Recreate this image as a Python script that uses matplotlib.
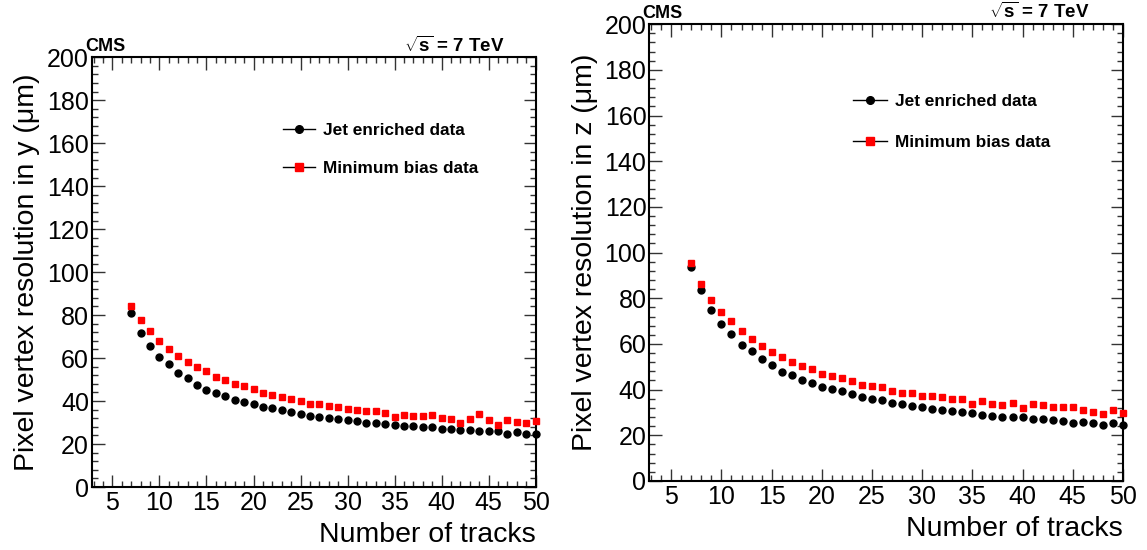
import matplotlib
matplotlib.use('Agg')
import matplotlib.pyplot as plt
import numpy as np
from matplotlib.lines import Line2D
from matplotlib.ticker import MultipleLocator

plt.rcParams['font.family'] = ['Liberation Sans', 'DejaVu Sans']
plt.rcParams['mathtext.fontset'] = 'custom'
plt.rcParams['mathtext.rm'] = 'Liberation Sans'
plt.rcParams['mathtext.bf'] = 'Liberation Sans:bold'

# number of tracks in the vertex
n_tracks = np.arange(7, 51)

# resolution in y (um)
jet_y = [81.1, 71.6, 65.8, 60.5, 57.1, 52.9, 50.6, 47.6, 45.3, 43.9,
         42.3, 40.7, 39.7, 38.5, 37.1, 36.6, 35.7, 34.9, 33.8, 33.0,
         32.7, 31.9, 31.5, 31.0, 30.6, 29.8, 29.6, 29.2, 28.7, 28.5,
         28.2, 27.8, 27.8, 27.2, 27.2, 26.4, 26.4, 26.2, 26.0, 26.0,
         24.5, 25.4, 24.8, 24.5]
minbias_y = [84.2, 77.5, 72.4, 67.9, 64.4, 60.8, 58.1, 55.8, 53.8, 51.3,
             49.8, 48.1, 46.8, 45.4, 43.6, 42.8, 41.9, 40.9, 40.1, 38.6,
             38.6, 37.7, 37.4, 36.5, 35.8, 35.5, 35.3, 34.3, 32.6, 33.7,
             33.2, 33.2, 33.5, 32.1, 31.5, 29.6, 31.5, 33.8, 31.0, 29.0,
             31.2, 30.4, 29.8, 30.6]

# resolution in z (um)
jet_z = [93.7, 83.8, 75.0, 68.6, 64.3, 59.5, 56.9, 53.4, 50.7, 47.9,
         46.3, 44.2, 42.8, 41.2, 40.4, 39.2, 37.9, 36.9, 36.0, 35.4,
         34.1, 33.9, 32.9, 32.5, 31.7, 31.1, 30.7, 30.0, 29.7, 29.1,
         28.4, 28.2, 27.9, 27.9, 27.3, 27.0, 26.8, 26.4, 25.6, 25.9,
         25.4, 24.7, 25.3, 24.4]
minbias_z = [95.6, 86.3, 79.2, 74.1, 69.9, 65.8, 62.3, 58.9, 56.3, 54.5,
             51.9, 50.4, 49.1, 46.9, 45.9, 44.9, 43.6, 42.2, 41.8, 41.1,
             39.5, 38.5, 38.5, 37.4, 37.4, 36.8, 35.8, 35.7, 33.6, 35.0,
             33.9, 33.3, 34.2, 32.0, 33.6, 33.2, 32.5, 32.6, 32.2, 31.0,
             30.4, 29.3, 31.1, 29.7]

fig = plt.figure(figsize=(11.47, 5.5), dpi=100)
ax1 = fig.add_axes([0.080, 0.1145, 0.387, 0.7815])
ax2 = fig.add_axes([0.566, 0.1255, 0.413, 0.8305])


def style_panel(ax, jet, minbias, coord, leg_y, spacing, hlen):
    ax.plot(n_tracks, jet, ls='none', marker='o', ms=5, color='black', clip_on=False, zorder=3)
    ax.plot(n_tracks, minbias, ls='none', marker='s', ms=5, color='red', clip_on=False, zorder=3)
    ax.set_xlim(2.8, 50)
    ax.set_ylim(0, 200)
    ax.xaxis.set_major_locator(MultipleLocator(5))
    ax.xaxis.set_minor_locator(MultipleLocator(1))
    ax.yaxis.set_major_locator(MultipleLocator(20))
    ax.yaxis.set_minor_locator(MultipleLocator(4))
    ax.tick_params(which='both', direction='in', top=True, right=True,
                   labelsize=18, width=1, color='#333333')
    ax.tick_params(which='major', length=9)
    ax.tick_params(which='minor', length=4.5)
    ax.tick_params(axis='y', pad=2)
    ax.tick_params(axis='x', pad=3)
    for s in ax.spines.values():
        s.set_linewidth(1.5)
    ax.set_ylabel(f'Pixel vertex resolution in {coord} (μm)', fontsize=20.5, labelpad=5)
    ax.set_xlabel('Number of tracks', fontsize=20.5, loc='right', labelpad=5)
    ax.text(-0.015, 1.004, 'CMS', transform=ax.transAxes, fontsize=13,
            fontweight='bold', ha='left', va='bottom')
    ax.text(0.93, 1.004, r'$\sqrt{\mathbf{s}}$ = 7 TeV', transform=ax.transAxes,
            fontsize=13.5, fontweight='bold', ha='right', va='bottom')
    handles = [Line2D([], [], color='black', lw=1, marker='o', ms=5.5),
               Line2D([], [], color='black', lw=1, marker='s', ms=5.5,
                      mfc='red', mec='red')]
    ax.legend(handles, ['Jet enriched data', 'Minimum bias data'],
              loc='center left', bbox_to_anchor=(0.43, leg_y), frameon=False,
              prop={'weight': 'bold', 'size': 12.4}, handlelength=hlen,
              handletextpad=0.47, labelspacing=spacing, borderpad=0,
              borderaxespad=0)


style_panel(ax1, jet_y, minbias_y, 'y', 0.785, 1.3, 1.86)
style_panel(ax2, jet_z, minbias_z, 'z', 0.786, 1.47, 2.0)

fig.savefig('out.png', dpi=100)
